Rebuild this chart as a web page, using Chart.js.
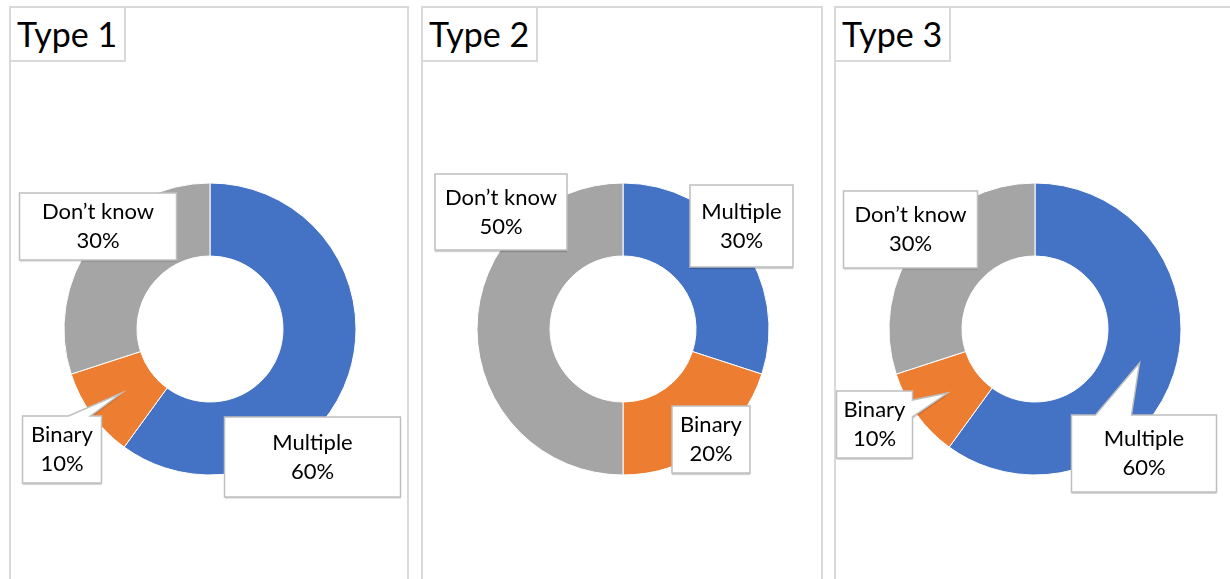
<!DOCTYPE html>
<html lang="en">
<head>
<meta charset="UTF-8">
<title>Type 1 / Type 2 / Type 3</title>
<style>
  html, body { margin: 0; padding: 0; background: #fff; }
  body { width: 1230px; height: 579px; overflow: hidden; position: relative; font-family: Lato, "Open Sans", sans-serif; }
  .panel { position: absolute; top: 6px; height: 620px; border: 2px solid #d9d9d9; box-sizing: border-box; }
  .title { position: absolute; top: 6px; width: 117px; height: 56px; border: 2px solid #d9d9d9; box-sizing: border-box;
           font-size: 34px; line-height: 52px; padding-left: 6px; color: #000; background: #fff; }
  canvas { position: absolute; }
</style>
</head>
<body>
<div class="panel" style="left:9px;width:400px"></div>
<div class="panel" style="left:421px;width:402px"></div>
<div class="panel" style="left:834px;width:500px"></div>
<div class="title" id="t0" style="left:9px"></div>
<div class="title" id="t1" style="left:421px"></div>
<div class="title" id="t2" style="left:834px"></div>
<canvas id="c0" width="440" height="440" style="left:-10px;top:109px"></canvas>
<canvas id="c1" width="440" height="440" style="left:403px;top:109px"></canvas>
<canvas id="c2" width="440" height="440" style="left:815px;top:109px"></canvas>
<script src="https://cdn.jsdelivr.net/npm/chart.js@4/dist/chart.umd.min.js"></script>
<script>
'use strict';

// data
var chartTitles = ['Type 1', 'Type 2', 'Type 3'];
var categories = ['Multiple', 'Binary', 'Don\u2019t know'];
var type1Values = [60, 10, 30];
var type2Values = [30, 20, 50];
var type3Values = [60, 10, 30];

var sliceColors = ['#4472C4', '#ED7D31', '#A5A5A5'];

// callout boxes, offsets from the donut centre (l, t, r, b), optional pointer
var calloutLayouts = [
  [
    { l: 14.5, t: 88, r: 190.5, b: 168 },
    { l: -187.5, t: 87, r: -108.5, b: 154, ptr: { side: 'top', a: -141.5, b: -119.5, tx: -88.5, ty: 64 } },
    { l: -190.5, t: -136, r: -33.5, b: -69 }
  ],
  [
    { l: 67, t: -144, r: 170, b: -62 },
    { l: 49, t: 77, r: 127, b: 144 },
    { l: -188, t: -155, r: -56, b: -79 }
  ],
  [
    { l: 36.5, t: 86, r: 181.5, b: 163, ptr: { side: 'top', a: 60.5, b: 96.5, tx: 104.5, ty: 34 } },
    { l: -198.5, t: 62, r: -122.5, b: 129, ptr: { side: 'right', a: 71, b: 88, tx: -87.5, ty: 64 } },
    { l: -191.5, t: -138, r: -57.5, b: -61 }
  ]
];

var calloutPlugin = {
  id: 'callouts',
  afterDatasetsDraw: function(chart, args, opts) {
    var ctx = chart.ctx;
    var meta = chart.getDatasetMeta(0);
    var cx = meta.data[0].x;
    var cy = meta.data[0].y;
    var values = chart.data.datasets[0].data;

    opts.boxes.forEach(function(bx, i) {
      var l = cx + bx.l, t = cy + bx.t, r = cx + bx.r, b = cy + bx.b;
      var pts = [[l, t]];
      var p = bx.ptr;
      if (p && p.side === 'top') {
        pts.push([cx + p.a, t], [cx + p.tx, cy + p.ty], [cx + p.b, t]);
      }
      pts.push([r, t]);
      if (p && p.side === 'right') {
        pts.push([r, cy + p.a], [cx + p.tx, cy + p.ty], [r, cy + p.b]);
      }
      pts.push([r, b], [l, b]);

      ctx.save();
      ctx.beginPath();
      pts.forEach(function(pt, k) {
        if (k === 0) ctx.moveTo(pt[0], pt[1]); else ctx.lineTo(pt[0], pt[1]);
      });
      ctx.closePath();
      ctx.shadowColor = 'rgba(0,0,0,0.18)';
      ctx.shadowOffsetY = 2;
      ctx.shadowBlur = 1;
      ctx.fillStyle = '#fff';
      ctx.fill();
      ctx.shadowColor = 'transparent';
      ctx.lineWidth = 1.5;
      ctx.strokeStyle = '#bfbfbf';
      ctx.stroke();

      ctx.fillStyle = '#000';
      ctx.font = '22px Lato, "Open Sans", sans-serif';
      ctx.textAlign = 'center';
      ctx.textBaseline = 'middle';
      var mx = (l + r) / 2, my = (t + b) / 2;
      ctx.fillText(chart.data.labels[i], mx, my - 14.5);
      ctx.fillText(values[i] + '%', mx, my + 14.5);
      ctx.restore();
    });
  }
};

function makeDonut(id, values, layout) {
  return new Chart(document.getElementById(id), {
    type: 'doughnut',
    data: {
      labels: categories,
      datasets: [{
        data: values,
        backgroundColor: sliceColors,
        borderColor: '#fff',
        borderWidth: 1,
        hoverOffset: 0
      }]
    },
    options: {
      responsive: false,
      animation: false,
      radius: 146,
      cutout: '50%',
      rotation: 0,
      layout: { padding: 0 },
      plugins: {
        legend: { display: false },
        tooltip: { enabled: false },
        callouts: { boxes: layout }
      }
    },
    plugins: [calloutPlugin]
  });
}

chartTitles.forEach(function(txt, i) {
  document.getElementById('t' + i).textContent = txt;
});

makeDonut('c0', type1Values, calloutLayouts[0]);
makeDonut('c1', type2Values, calloutLayouts[1]);
makeDonut('c2', type3Values, calloutLayouts[2]);
</script>
</body>
</html>
